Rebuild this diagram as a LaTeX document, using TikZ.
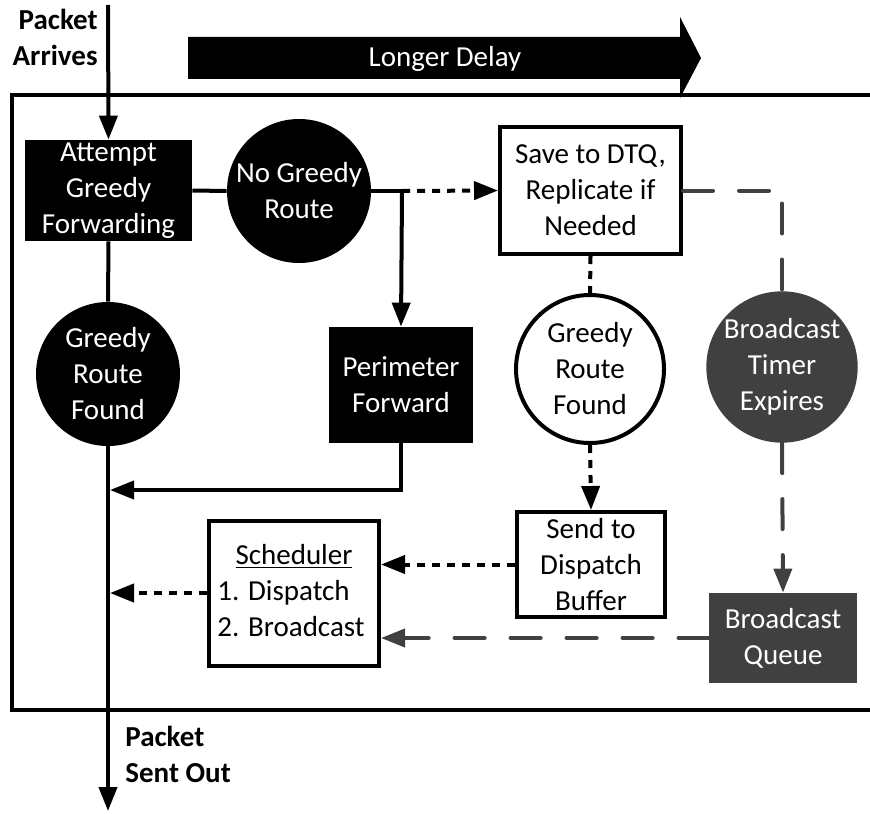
\documentclass[tikz,border=0pt]{standalone}
\usepackage{fontspec}
\setmainfont{Carlito}
\usetikzlibrary{arrows.meta}
\definecolor{dgray}{HTML}{404040}
\begin{document}
\begin{tikzpicture}[x=0.5pt,y=-0.5pt,
  every node/.style={font=\fontsize{14.5}{18}\selectfont, align=center, inner sep=0pt},
  blkbox/.style={rectangle, fill=black, text=white},
  whtbox/.style={rectangle, draw=black, line width=2pt, fill=white},
  grybox/.style={rectangle, fill=dgray, text=white},
  blkcirc/.style={circle, fill=black, text=white},
  whtcirc/.style={circle, draw=black, line width=2pt, fill=white},
  grycirc/.style={circle, fill=dgray, text=white},
  label/.style={font=\fontsize{14.5}{18}\selectfont\bfseries},
  solidline/.style={line width=2pt},
  dotline/.style={line width=2pt, dash pattern=on 4pt off 3.5pt},
  dashline/.style={line width=2pt, draw=dgray, dash pattern=on 15pt off 13pt, line cap=round},
  arr/.style={-{Triangle[length=12pt,width=9pt]}}
]
\useasboundingbox (0,0) rectangle (870,813);

% enclosing frame, open on the right
\draw[line width=2pt] (870,95) -- (12,95) -- (12,710) -- (870,710);

% "Longer Delay" block arrow
\fill (188,37) -- (680,37) -- (680,17) -- (701,58) -- (680,98) -- (680,79) -- (188,79) -- cycle;
\node[text=white] (delay) at (445,59) {Longer Delay};

% boxes and decision circles
\node[blkbox, minimum width=83.5pt, minimum height=50.5pt] (att) at (108.5,190.5) {Attempt\\Greedy\\Forwarding};
\node[blkcirc, minimum size=72pt] (nog) at (299,191) {No Greedy\\Route};
\node[blkcirc, minimum size=72pt] (grf1) at (108,374) {Greedy\\Route\\Found};
\node[blkbox, minimum width=72pt, minimum height=58pt] (per) at (401,385) {Perimeter\\Forward};
\node[whtbox, minimum width=90.5pt, minimum height=63.5pt] (save) at (590.5,190.5) {Save to DTQ,\\Replicate if\\Needed};
\node[whtcirc, minimum size=74pt] (grf2) at (590,369) {Greedy\\Route\\Found};
\node[grycirc, minimum size=73pt] (timer) at (782,367) {Broadcast\\Timer\\Expires};
\node[whtbox, minimum width=74pt, minimum height=52.5pt] (send) at (591,564.5) {Send to\\Dispatch\\Buffer};
\node[whtbox, minimum width=85pt, minimum height=72.5pt] (sched) at (294,593.5)
  {\begin{tabular}{@{}l@{\hspace{3pt}}}\multicolumn{1}{@{}c@{}}{\underline{Scheduler}}\\1. Dispatch\\2. Broadcast\end{tabular}};
\node[grybox, minimum width=74pt, minimum height=45pt] (queue) at (783,638) {Broadcast\\Queue};

% entry and exit labels
\node[label, align=right, anchor=east] (arrives) at (98,37) {Packet\\Arrives};
\node[label, align=left, anchor=west] (sentout) at (125,754) {Packet\\Sent Out};

% free ends and junctions
\coordinate (in) at (108,5);
\coordinate (out) at (108,811);
\coordinate (split) at (402,191);
\coordinate (merge1) at (108,490);
\coordinate (merge2) at (108,593);

% main greedy path
\draw[solidline, arr] (in) -- (att.north);
\draw[solidline] (att.east) -- (nog.west);
\draw[solidline] (att.south) -- (grf1.north);
\draw[solidline, arr] (grf1.south) -- (out);

% no greedy route: perimeter forwarding or DTQ
\draw[solidline] (nog.east) -- (split);
\draw[solidline, arr] (split) -- (per.north);
\draw[dotline, arr] (split) -- (save.west);
\draw[solidline, arr, shorten >=1pt] (per.south) |- (merge1);

% delay-tolerant branch
\draw[dotline] (save.south) -- (grf2.north);
\draw[dotline, arr] (grf2.south) -- (send.north);
\draw[dotline, arr] (send.west) -- (sched.east |- send.west);
\draw[dotline, arr, shorten >=1pt] (sched.west |- merge2) -- (merge2);

% broadcast branch
\draw[dashline] (save.east) -| (timer.north);
\draw[dashline, arr] (timer.south) -- (queue.north);
\draw[dashline, arr] (queue.west) -- (sched.east |- queue.west);
\end{tikzpicture}
\end{document}
